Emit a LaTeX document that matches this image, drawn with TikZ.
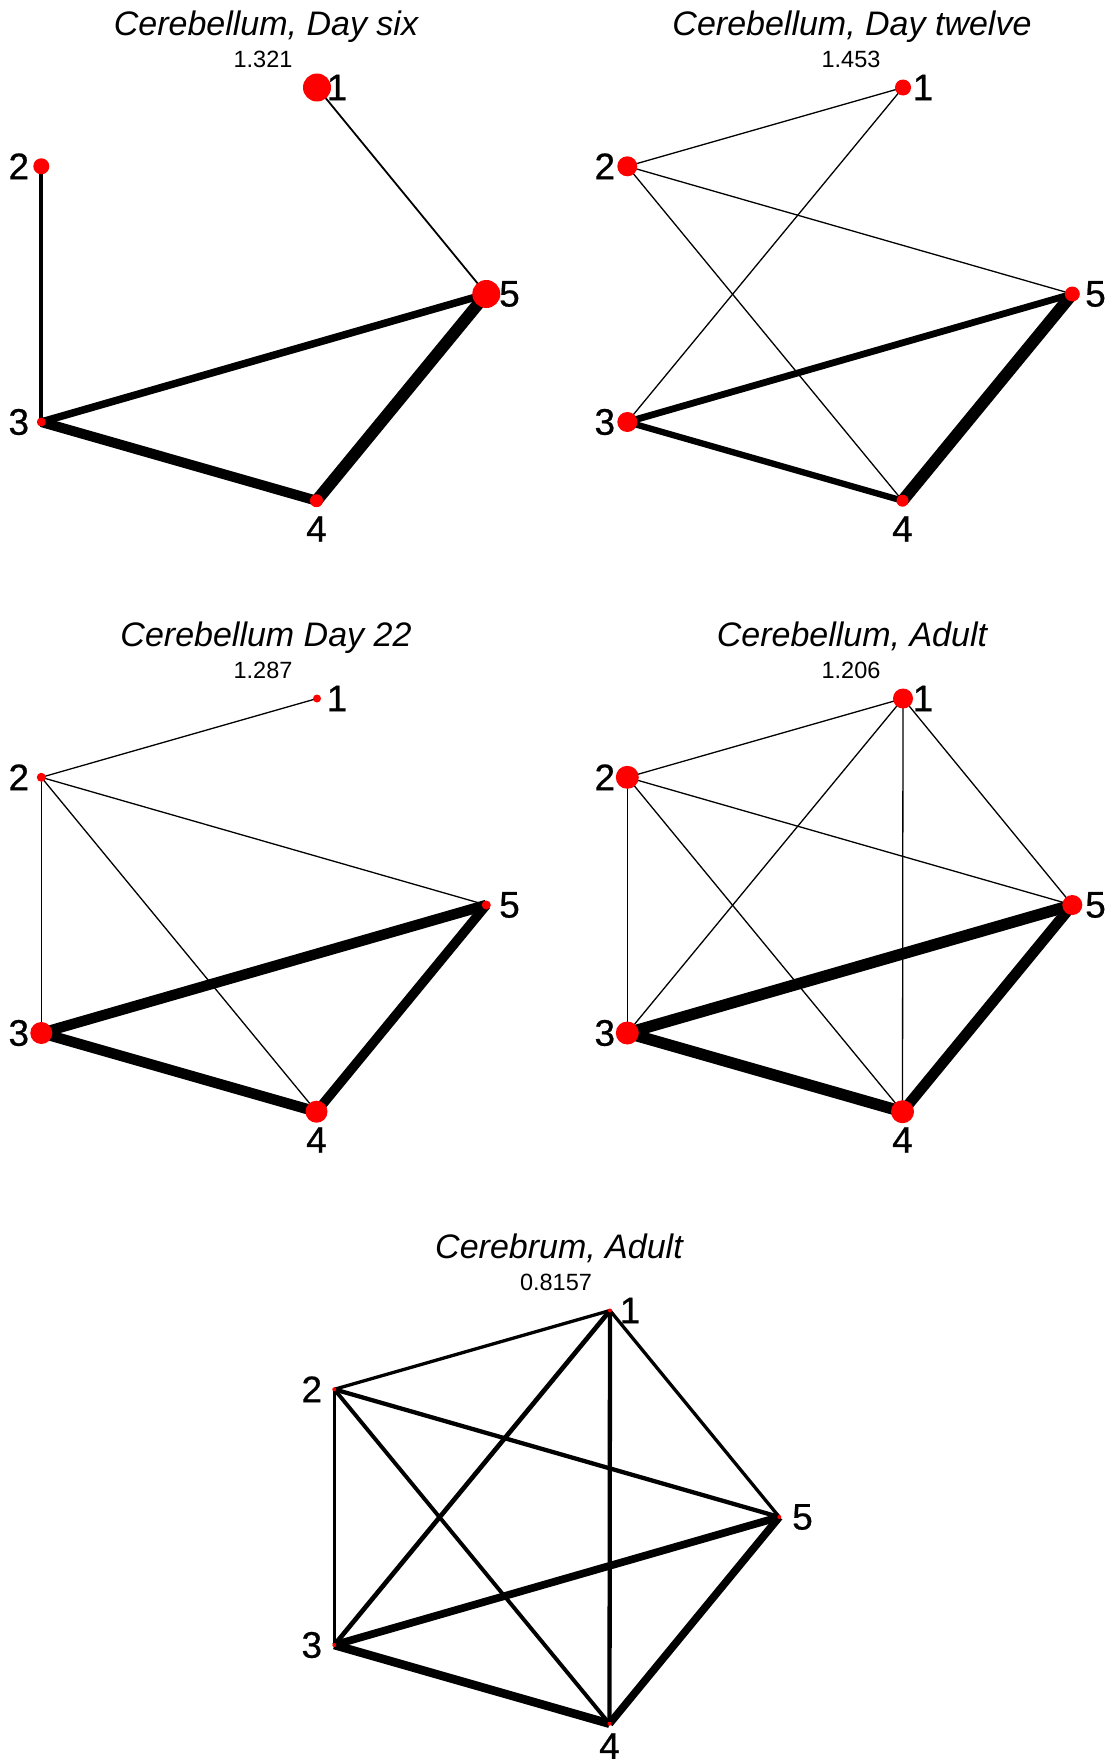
\documentclass[tikz,border=0pt]{standalone}
\usepackage{fontspec}
\setmainfont{Liberation Sans}
\newfontfamily\labfont[FakeBold=0.6]{Liberation Sans}
\usetikzlibrary{backgrounds}
\tikzset{
  dot/.style={circle, fill=red, inner sep=0pt, minimum size=#1},
  lab/.style={font=\labfont\fontsize{37}{42}\selectfont, inner sep=0pt},
  ttl/.style={font=\fontsize{34}{40}\selectfont\itshape, anchor=base, inner sep=0pt},
  val/.style={font=\fontsize{23.5}{28}\selectfont, anchor=base, inner sep=0pt},
  lnk/.style={line width=#1, draw=black},
}
\begin{document}
\begin{tikzpicture}[x=1pt,y=-1pt]
\begin{scope}[on background layer]
\fill[white] (0,0) rectangle (1117,1761);
\end{scope}
\useasboundingbox (0,0) rectangle (1117,1761);

% ---------- Panel 1 ----------
\begin{scope}
\node[ttl] (t1) at (266,35.7) {Cerebellum, Day six};
\node[val] (v1) at (263,67.9) {1.321};
\node[dot=28pt] (a1) at (317,87.5) {};
\node[dot=16pt] (a2) at (41.3,166.3) {};
\node[dot=9pt] (a3) at (41.3,422) {};
\node[dot=13pt] (a4) at (316.5,500.7) {};
\node[dot=28pt] (a5) at (486.3,294) {};
\node[lab] (la1) at (337,87.5) {1};
\node[lab] (la2) at (18.8,166.3) {2};
\node[lab] (la3) at (18.8,422) {3};
\node[lab] (la4) at (316.5,529) {4};
\node[lab] (la5) at (509.5,294) {5};
\begin{scope}[on background layer]
\draw[lnk=1.8pt] (a1.center) -- (a5.center);
\draw[lnk=4pt] (a2.center) -- (a3.center);
\draw[lnk=7.5pt] (a3.center) -- (a5.center);
\draw[lnk=10pt] (a3.center) -- (a4.center);
\draw[lnk=12pt] (a4.center) -- (a5.center);
\end{scope}
\end{scope}

% ---------- Panel 2 ----------
\begin{scope}[shift={(586,0)}]
\node[ttl] (t2) at (266,35.7) {Cerebellum, Day twelve};
\node[val] (v2) at (265,67.9) {1.453};
\node[dot=16pt] (b1) at (317,87.5) {};
\node[dot=20pt] (b2) at (41.3,166.3) {};
\node[dot=20pt] (b3) at (41.3,422) {};
\node[dot=12pt] (b4) at (316.5,500.7) {};
\node[dot=15pt] (b5) at (486.3,294) {};
\node[lab] (lb1) at (337,87.5) {1};
\node[lab] (lb2) at (18.8,166.3) {2};
\node[lab] (lb3) at (18.8,422) {3};
\node[lab] (lb4) at (316.5,529) {4};
\node[lab] (lb5) at (509.5,294) {5};
\begin{scope}[on background layer]
\draw[lnk=1.3pt] (b1.center) -- (b2.center);
\draw[lnk=1.3pt] (b1.center) -- (b3.center);
\draw[lnk=1.3pt] (b2.center) -- (b4.center);
\draw[lnk=1.3pt] (b2.center) -- (b5.center);
\draw[lnk=6.8pt] (b3.center) -- (b5.center);
\draw[lnk=6.3pt] (b3.center) -- (b4.center);
\draw[lnk=12pt] (b4.center) -- (b5.center);
\end{scope}
\end{scope}

% ---------- Panel 3 ----------
\begin{scope}[shift={(0,611)}]
\node[ttl] (t3) at (266,35.7) {Cerebellum Day 22};
\node[val] (v3) at (263,67.9) {1.287};
\node[dot=8pt] (c1) at (317,87.5) {};
\node[dot=9pt] (c2) at (41.3,166.3) {};
\node[dot=22pt] (c3) at (41.3,422) {};
\node[dot=22pt] (c4) at (316.5,500.7) {};
\node[dot=9pt] (c5) at (486.3,294) {};
\node[lab] (lc1) at (337,87.5) {1};
\node[lab] (lc2) at (18.8,166.3) {2};
\node[lab] (lc3) at (18.8,422) {3};
\node[lab] (lc4) at (316.5,529) {4};
\node[lab] (lc5) at (509.5,294) {5};
\begin{scope}[on background layer]
\draw[lnk=1.3pt] (c1.center) -- (c2.center);
\draw[lnk=1.3pt] (c2.center) -- (c3.center);
\draw[lnk=1.3pt] (c2.center) -- (c4.center);
\draw[lnk=1.3pt] (c2.center) -- (c5.center);
\draw[lnk=10.5pt] (c3.center) -- (c5.center);
\draw[lnk=10.5pt] (c3.center) -- (c4.center);
\draw[lnk=9.5pt] (c4.center) -- (c5.center);
\end{scope}
\end{scope}

% ---------- Panel 4 ----------
\begin{scope}[shift={(586,611)}]
\node[ttl] (t4) at (266,35.7) {Cerebellum, Adult};
\node[val] (v4) at (265,67.9) {1.206};
\node[dot=20pt] (d1) at (317,87.5) {};
\node[dot=23pt] (d2) at (41.3,166.3) {};
\node[dot=23pt] (d3) at (41.3,422) {};
\node[dot=23pt] (d4) at (316.5,500.7) {};
\node[dot=20pt] (d5) at (486.3,294) {};
\node[lab] (ld1) at (337,87.5) {1};
\node[lab] (ld2) at (18.8,166.3) {2};
\node[lab] (ld3) at (18.8,422) {3};
\node[lab] (ld4) at (316.5,529) {4};
\node[lab] (ld5) at (509.5,294) {5};
\begin{scope}[on background layer]
\draw[lnk=1.3pt] (d1.center) -- (d2.center);
\draw[lnk=1.3pt] (d1.center) -- (d3.center);
\draw[lnk=1.3pt] (d1.center) -- (d4.center);
\draw[lnk=1.3pt] (d1.center) -- (d5.center);
\draw[lnk=1.3pt] (d2.center) -- (d3.center);
\draw[lnk=1.3pt] (d2.center) -- (d4.center);
\draw[lnk=1.3pt] (d2.center) -- (d5.center);
\draw[lnk=11.5pt] (d3.center) -- (d5.center);
\draw[lnk=11.5pt] (d3.center) -- (d4.center);
\draw[lnk=10.8pt] (d4.center) -- (d5.center);
\end{scope}
\end{scope}

% ---------- Panel 5 ----------
\begin{scope}[shift={(293,1223)}]
\node[ttl] (t5) at (266,35.7) {Cerebrum, Adult};
\node[val] (v5) at (263,67.9) {0.8157};
\node[dot=4pt] (e1) at (317,87.5) {};
\node[dot=4pt] (e2) at (41.3,166.3) {};
\node[dot=4pt] (e3) at (41.3,422) {};
\node[dot=4pt] (e4) at (316.5,500.7) {};
\node[dot=4pt] (e5) at (486.3,294) {};
\node[lab] (le1) at (337,87.5) {1};
\node[lab] (le2) at (18.8,166.3) {2};
\node[lab] (le3) at (18.8,422) {3};
\node[lab] (le4) at (316.5,523) {4};
\node[lab] (le5) at (509.5,294) {5};
\begin{scope}[on background layer]
\draw[lnk=3.3pt] (e1.center) -- (e2.center);
\draw[lnk=4.7pt] (e1.center) -- (e3.center);
\draw[lnk=4.3pt] (e1.center) -- (e4.center);
\draw[lnk=3.3pt] (e1.center) -- (e5.center);
\draw[lnk=2.9pt] (e2.center) -- (e3.center);
\draw[lnk=3.9pt] (e2.center) -- (e4.center);
\draw[lnk=4.3pt] (e2.center) -- (e5.center);
\draw[lnk=7.7pt] (e3.center) -- (e5.center);
\draw[lnk=8.6pt] (e3.center) -- (e4.center);
\draw[lnk=7.7pt] (e4.center) -- (e5.center);
\end{scope}
\end{scope}
\end{tikzpicture}
\end{document}
